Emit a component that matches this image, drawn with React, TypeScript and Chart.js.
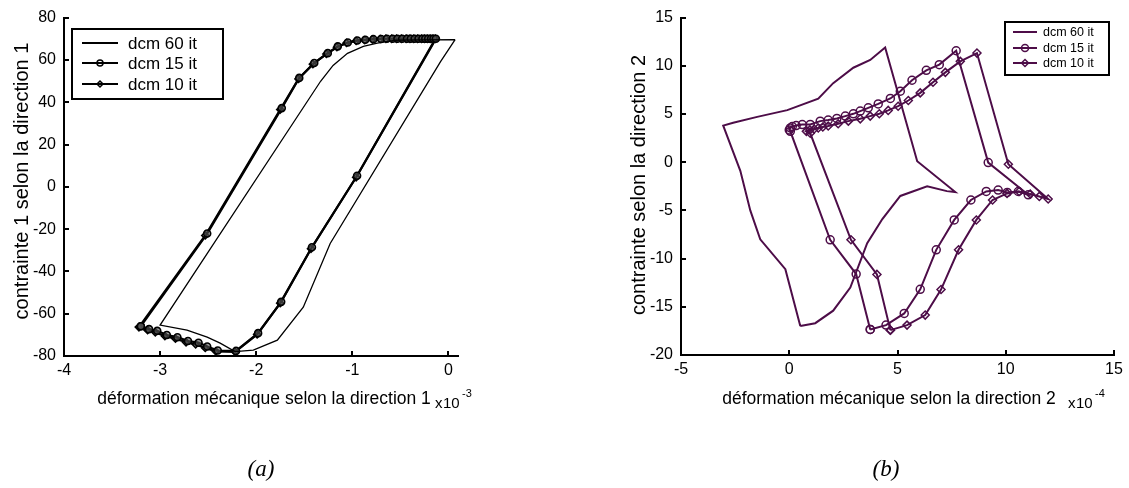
import React, { useEffect, useRef } from 'react';
import { Chart, registerables } from 'chart.js';

Chart.register(...registerables);

const SERIES = ['dcm 60 it', 'dcm 15 it', 'dcm 10 it'];

// ---------- (a) direction 1 : strain (x1e-3) / stress ----------
const aXTicks = [-4, -3, -2, -1, 0];
const aYTicks = [-80, -60, -40, -20, 0, 20, 40, 60, 80];
const a60X = [0.07, -0.08, -1.23, -1.51, -1.78, -2.03, -2.22, -2.375, -2.51, -2.72, -3.0, -1.33, -1.2, -1.05, -0.885, -0.74, -0.55, -0.29, 0.07];
const a60Y = [69.6, 59.3, -26.8, -56.9, -72.5, -77.2, -77.9, -73.9, -71.1, -67.8, -65.4, 49.9, 57.4, 63.1, 66.4, 67.9, 69.3, 69.5, 69.6];
const a15X = [-3.2, -2.51, -1.734, -1.552, -1.396, -1.255, -1.151, -1.047, -0.948, -0.865, -0.781, -0.7, -0.64, -0.58, -0.53, -0.48, -0.43, -0.39, -0.35, -0.31, -0.27, -0.24, -0.21, -0.18, -0.155, -0.13, -0.95, -1.42, -1.74, -1.98, -2.21, -2.4, -2.51, -2.6, -2.71, -2.82, -2.93, -3.03, -3.115, -3.2];
const a15Y = [-65.9, -22.1, 37.2, 51.5, 58.5, 63.2, 66.4, 68.2, 69.2, 69.5, 69.8, 69.9, 70, 70, 70, 70, 70, 70, 70, 70, 70, 70, 70, 70, 70, 70, 5.2, -28.6, -54.4, -69.2, -77.6, -77.4, -75.5, -73.7, -72.9, -71.1, -70.1, -68.1, -67.3, -65.9];
const a10X = [-3.22, -2.53, -1.75, -1.56, -1.41, -1.27, -1.16, -1.06, -0.96, -0.87, -0.79, -0.71, -0.65, -0.59, -0.54, -0.49, -0.44, -0.4, -0.36, -0.32, -0.28, -0.25, -0.22, -0.19, -0.16, -0.135, -0.96, -1.43, -1.75, -1.99, -2.22, -2.42, -2.53, -2.63, -2.73, -2.84, -2.95, -3.05, -3.13, -3.22];
const a10Y = [-66.3, -23, 36.5, 51, 58, 62.8, 66, 68, 69, 69.4, 69.7, 69.9, 70, 70, 70, 70, 70, 70, 70, 70, 70, 70, 70, 70, 70, 70, 4.5, -29.3, -55, -69.8, -78, -77.8, -76.2, -74.5, -73.5, -71.8, -70.6, -68.8, -67.8, -66.3];

// ---------- (b) direction 2 : strain (x1e-4) / stress ----------
const bXTicks = [-5, 0, 5, 10, 15];
const bYTicks = [-20, -15, -10, -5, 0, 5, 10, 15];
const b60X = [0.51, 1.2, 2.03, 2.82, 3.6, 4.3, 5.13, 6.37, 7.28, 7.67, 5.91, 4.43, 3.74, 2.96, 2.03, 1.34, -0.09, -1.48, -2.59, -3.05, -2.26, -1.8, -1.34, -0.18, 0.51];
const b60Y = [-17.0, -16.7, -15.4, -13.0, -8.4, -5.9, -3.5, -2.5, -3.0, -3.1, 0.1, 11.9, 10.6, 9.8, 8.2, 6.6, 5.4, 4.7, 4.1, 3.8, -0.9, -5.0, -8.0, -11.1, -17.0];
const b15X = [3.74, 3.09, 1.89, 0.05, 0.0, 0.05, 0.14, 0.32, 0.6, 0.97, 1.43, 1.8, 2.2, 2.59, 2.96, 3.28, 3.65, 4.11, 4.67, 5.13, 5.67, 6.33, 6.93, 7.71, 9.19, 11.04, 10.58, 10.07, 9.65, 9.1, 8.39, 7.62, 6.79, 6.05, 5.31, 4.47, 3.74];
const b15Y = [-17.35, -11.6, -8.05, 3.2, 3.35, 3.55, 3.7, 3.8, 3.9, 3.92, 4.26, 4.37, 4.54, 4.78, 5.02, 5.3, 5.64, 6.05, 6.61, 7.36, 8.5, 9.53, 10.12, 11.56, -0.04, -3.38, -3.04, -3.14, -2.89, -3.03, -3.92, -5.99, -9.09, -13.19, -15.69, -16.9, -17.35];
const b10X = [4.67, 4.05, 2.85, 0.97, 0.79, 0.95, 1.15, 1.34, 1.55, 1.8, 2.26, 2.73, 3.28, 3.74, 4.16, 4.57, 5.03, 5.5, 6.05, 6.64, 7.21, 7.9, 8.67, 10.12, 11.96, 11.55, 11.13, 10.62, 10.06, 9.39, 8.64, 7.82, 7.01, 6.28, 5.44, 4.67];
const b10Y = [-17.42, -11.64, -8.05, 3.0, 3.2, 3.35, 3.45, 3.55, 3.65, 3.75, 3.99, 4.26, 4.5, 4.78, 5.02, 5.37, 5.81, 6.4, 7.19, 8.29, 9.32, 10.46, 11.32, -0.21, -3.82, -3.55, -3.3, -3.04, -3.24, -3.92, -5.99, -9.09, -13.21, -15.86, -16.9, -17.42];

const FONT = '"Liberation Sans", Arial, Helvetica, sans-serif';
const SERIF = '"Liberation Serif", "Times New Roman", serif';
const PURPLE = '#4d0d48';

const toPts = (xs: number[], ys: number[]) => xs.map((x, i) => ({ x, y: ys[i] }));

function marker(ctx: CanvasRenderingContext2D, style: string, x: number, y: number, r: number) {
  ctx.beginPath();
  if (style === 'circle') ctx.arc(x, y, r, 0, Math.PI * 2);
  else {
    ctx.moveTo(x, y - r);
    ctx.lineTo(x + r, y);
    ctx.lineTo(x, y + r);
    ctx.lineTo(x - r, y);
    ctx.closePath();
  }
  ctx.stroke();
}

type Decor = {
  xTicks: number[];
  yTicks: number[];
  xTitle: string; xTitleX: number; xTitleY: number; xTitleSize: number;
  yTitle: string; yTitleX: number; yTitleY: number; yTitleSize: number;
  expX: number; expY: number; exp: string;
  legend: { x: number; y: number; w: number; h: number; rows: number[]; l0: number; l1: number; tx: number; size: number; color: string; r: number };
  caption: string; capX: number; capY: number;
};

const decor = (d: Decor) => ({
  id: 'decor',
  afterDraw(chart: any) {
    const ctx: CanvasRenderingContext2D = chart.ctx;
    const xs = chart.scales.x;
    const ys = chart.scales.y;
    ctx.save();
    ctx.strokeStyle = '#000';
    ctx.lineWidth = 2;
    for (const v of d.xTicks) {
      const px = Math.round(xs.getPixelForValue(v));
      ctx.beginPath(); ctx.moveTo(px, ys.bottom); ctx.lineTo(px, ys.bottom - 5); ctx.stroke();
    }
    for (const v of d.yTicks) {
      const py = Math.round(ys.getPixelForValue(v));
      ctx.beginPath(); ctx.moveTo(xs.left, py); ctx.lineTo(xs.left + 5, py); ctx.stroke();
    }
    ctx.fillStyle = '#000';
    // x title
    ctx.font = `${d.xTitleSize}px ${FONT}`;
    ctx.textAlign = 'center';
    ctx.textBaseline = 'alphabetic';
    ctx.fillText(d.xTitle, d.xTitleX, d.xTitleY);
    // exponent
    ctx.textAlign = 'left';
    ctx.font = `15px ${FONT}`;
    ctx.fillText('x', d.expX - 8, d.expY + 4);
    ctx.fillText('10', d.expX, d.expY + 4);
    ctx.font = `11px ${FONT}`;
    ctx.fillText(d.exp, d.expX + 19, d.expY - 7);
    // y title
    ctx.save();
    ctx.translate(d.yTitleX, d.yTitleY);
    ctx.rotate(-Math.PI / 2);
    ctx.font = `${d.yTitleSize}px ${FONT}`;
    ctx.textAlign = 'center';
    ctx.textBaseline = 'middle';
    ctx.fillText(d.yTitle, 0, 0);
    ctx.restore();
    // legend
    const L = d.legend;
    ctx.fillStyle = '#fff';
    ctx.fillRect(L.x, L.y, L.w, L.h);
    ctx.strokeStyle = '#000';
    ctx.lineWidth = 2;
    ctx.strokeRect(L.x, L.y, L.w, L.h);
    chart.data.datasets.forEach((ds: any, i: number) => {
      const yy = L.rows[i];
      ctx.strokeStyle = L.color;
      ctx.lineWidth = 2;
      ctx.beginPath(); ctx.moveTo(L.l0, yy); ctx.lineTo(L.l1, yy); ctx.stroke();
      if (ds.pointRadius > 0) {
        ctx.lineWidth = 1.5;
        marker(ctx, ds.pointStyle, (L.l0 + L.l1) / 2, yy, L.r);
      }
      ctx.fillStyle = '#000';
      ctx.font = `${L.size}px ${FONT}`;
      ctx.textAlign = 'left';
      ctx.textBaseline = 'middle';
      ctx.fillText(ds.label, L.tx, yy + 1);
    });
    // caption
    ctx.fillStyle = '#000';
    ctx.font = `italic 23px ${SERIF}`;
    ctx.textAlign = 'center';
    ctx.textBaseline = 'alphabetic';
    ctx.fillText(d.caption, d.capX, d.capY);
    ctx.restore();
  },
});

function axis(min: number, max: number, ticks: number[], fit: (s: any) => void, padding: number) {
  return {
    type: 'linear',
    min,
    max,
    afterBuildTicks: (s: any) => { s.ticks = ticks.map((v) => ({ value: v })); },
    afterFit: fit,
    grid: { display: false, drawTicks: false },
    border: { display: true, color: '#000', width: 2 },
    ticks: {
      color: '#000',
      font: { family: FONT, size: 16 },
      padding,
      autoSkip: false,
      maxRotation: 0,
      callback: (v: any) => String(v),
    },
  };
}

function buildA(): any {
  return {
    type: 'scatter',
    data: {
      datasets: [
        { label: SERIES[0], data: toPts(a60X, a60Y), showLine: true, borderColor: '#000', borderWidth: 1.3, pointRadius: 0, pointStyle: 'line' },
        { label: SERIES[1], data: toPts(a15X, a15Y), showLine: true, borderColor: '#000', borderWidth: 2.2, pointStyle: 'circle', pointRadius: 3.5, pointBorderWidth: 1.6, pointBorderColor: '#000', pointBackgroundColor: 'rgba(90,90,90,0.6)' },
        { label: SERIES[2], data: toPts(a10X, a10Y), showLine: true, borderColor: '#000', borderWidth: 2.2, pointStyle: 'rectRot', pointRadius: 3.5, pointBorderWidth: 1.6, pointBorderColor: '#000', pointBackgroundColor: 'rgba(90,90,90,0.6)' },
      ],
    },
    options: {
      responsive: false,
      animation: false,
      events: [],
      layout: { padding: { left: 0, right: 106, top: 16, bottom: 0 } },
      plugins: { legend: { display: false }, tooltip: { enabled: false } },
      scales: {
        x: axis(-4, 0.1, aXTicks, (s: any) => { s.height = 132; }, 5),
        y: axis(-80, 80, aYTicks, (s: any) => { s.width = 64; }, 8),
      },
    },
    plugins: [decor({
      xTicks: aXTicks, yTicks: aYTicks,
      xTitle: 'déformation mécanique selon la direction 1', xTitleX: 264, xTitleY: 404, xTitleSize: 17.5,
      yTitle: 'contrainte 1 selon la direction 1', yTitleX: 22, yTitleY: 181, yTitleSize: 20,
      expX: 443, expY: 404, exp: '-3',
      legend: { x: 72, y: 29, w: 151, h: 70, rows: [43, 63, 84], l0: 82, l1: 118, tx: 128, size: 17, color: '#000', r: 3 },
      caption: '(a)', capX: 261, capY: 476,
    })],
  };
}

function buildB(): any {
  const common = { showLine: true, borderColor: PURPLE, borderWidth: 2, pointRadius: 4, pointBorderWidth: 1.5, pointBorderColor: PURPLE, pointBackgroundColor: 'rgba(0,0,0,0)' };
  return {
    type: 'scatter',
    data: {
      datasets: [
        { ...common, label: SERIES[0], data: toPts(b60X, b60Y), pointRadius: 0 },
        { ...common, label: SERIES[1], data: toPts(b15X, b15Y), pointStyle: 'circle' },
        { ...common, label: SERIES[2], data: toPts(b10X, b10Y), pointStyle: 'rectRot' },
      ],
    },
    options: {
      responsive: false,
      animation: false,
      events: [],
      layout: { padding: { left: 0, right: 15, top: 16, bottom: 0 } },
      plugins: { legend: { display: false }, tooltip: { enabled: false } },
      scales: {
        x: axis(-5, 15, bXTicks, (s: any) => { s.height = 133; }, 5),
        y: axis(-20, 15, bYTicks, (s: any) => { s.width = 117; }, 8),
      },
    },
    plugins: [decor({
      xTicks: bXTicks, yTicks: bYTicks,
      xTitle: 'déformation mécanique selon la direction 2', xTitleX: 325, xTitleY: 404, xTitleSize: 17.5,
      yTitle: 'contrainte selon la direction 2', yTitleX: 75, yTitleY: 185, yTitleSize: 20,
      expX: 512, expY: 404, exp: '-4',
      legend: { x: 441, y: 22, w: 104, h: 53, rows: [32, 48, 63], l0: 449, l1: 473, tx: 479, size: 12.5, color: PURPLE, r: 3.5 },
      caption: '(b)', capX: 322, capY: 476,
    })],
  };
}

function ChartCanvas({ left, width, build }: { left: number; width: number; build: () => any }) {
  const ref = useRef<HTMLCanvasElement | null>(null);
  useEffect(() => {
    if (!ref.current) return;
    const chart = new Chart(ref.current, build());
    return () => chart.destroy();
  }, [build]);
  return (
    <canvas
      ref={ref}
      width={width}
      height={488}
      style={{ position: 'absolute', left, top: 0, width, height: 488 }}
    />
  );
}

export default function App() {
  return (
    <div style={{ position: 'absolute', left: 0, top: 0, width: 1129, height: 488, background: '#fff', overflow: 'hidden' }}>
      <ChartCanvas left={0} width={564} build={buildA} />
      <ChartCanvas left={564} width={565} build={buildB} />
    </div>
  );
}
